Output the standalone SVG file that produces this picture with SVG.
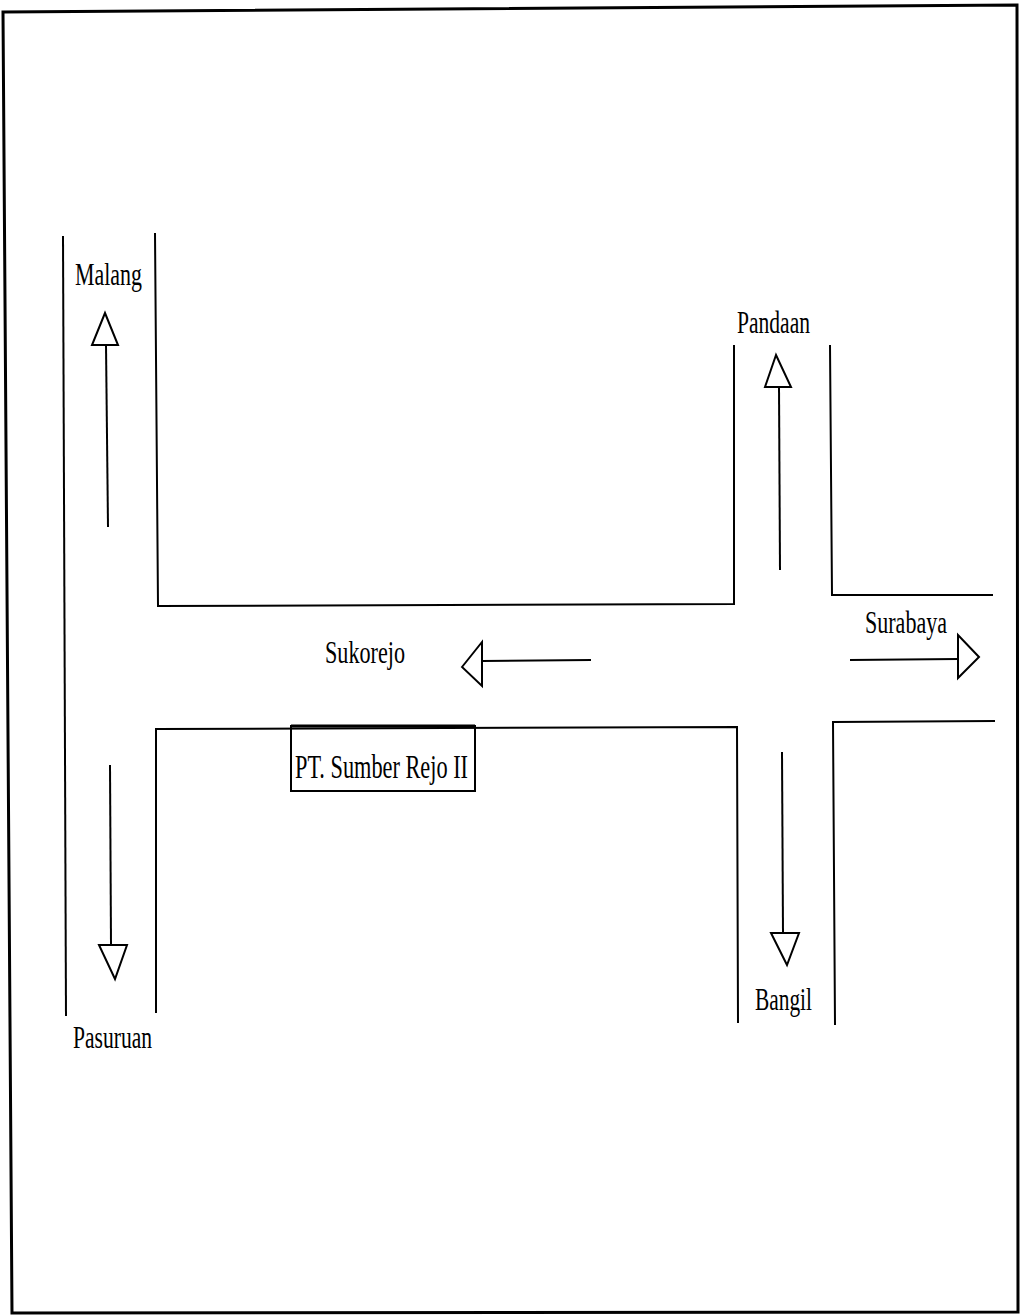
<svg xmlns="http://www.w3.org/2000/svg" width="1024" height="1315" viewBox="0 0 1024 1315">
<style>
.ln{stroke:#000;stroke-width:2;fill:none}
.ar{stroke:#000;stroke-width:2;fill:#fff;stroke-linejoin:miter}
.t{font-family:"Liberation Serif","Times New Roman",serif;font-size:31px;fill:#000}
</style>
<rect width="1024" height="1315" fill="#fff"/>
<polygon class="ln" style="stroke-width:3" points="3,12 1017,5 1018,1312 12,1313"/>
<g id="roads" class="ln">
<polyline points="63,236 66,1016"/>
<polyline points="155,233 158,606 734,604 734,345"/>
<polyline points="830,345 832,595 993,595"/>
<polyline points="156,1013 156,729 737,727 738,1023"/>
<polyline points="835,1025 833,722 995,721"/>
</g>
<g id="connectors">
<g id="arrow-malang"><line class="ln" x1="108" y1="527" x2="106" y2="345"/><polygon class="ar" points="105,313 92,345 118,345"/></g>
<g id="arrow-pandaan"><line class="ln" x1="780" y1="570" x2="779" y2="387"/><polygon class="ar" points="776,355 765,387 791,387"/></g>
<g id="arrow-sukorejo"><line class="ln" x1="591" y1="660" x2="482" y2="661"/><polygon class="ar" points="462,667 482,642 482,686"/></g>
<g id="arrow-surabaya"><line class="ln" x1="850" y1="660" x2="958" y2="659"/><polygon class="ar" points="979,657 958,635 958,678"/></g>
<g id="arrow-pasuruan"><line class="ln" x1="110" y1="765" x2="111" y2="945"/><polygon class="ar" points="115,979 99,945 127,945"/></g>
<g id="arrow-bangil"><line class="ln" x1="782" y1="752" x2="783" y2="933"/><polygon class="ar" points="787,965 771,933 799,933"/></g>
</g>
<g id="label-malang"><text class="t" x="75" y="285" textLength="67" lengthAdjust="spacingAndGlyphs">Malang</text></g>
<g id="label-pandaan"><text class="t" x="737" y="333" textLength="73" lengthAdjust="spacingAndGlyphs">Pandaan</text></g>
<g id="label-sukorejo"><text class="t" x="325" y="663" textLength="80" lengthAdjust="spacingAndGlyphs">Sukorejo</text></g>
<g id="label-surabaya"><text class="t" x="865" y="633" textLength="82" lengthAdjust="spacingAndGlyphs">Surabaya</text></g>
<g id="label-pasuruan"><text class="t" x="73" y="1048" textLength="79" lengthAdjust="spacingAndGlyphs">Pasuruan</text></g>
<g id="label-bangil"><text class="t" x="755" y="1010" textLength="57" lengthAdjust="spacingAndGlyphs">Bangil</text></g>
<g id="pt-sumber-rejo">
<rect class="ln" x="291" y="726" width="184" height="65"/>
<line class="ln" style="stroke-width:3" x1="291" y1="726" x2="475" y2="726"/>
<text class="t" style="font-size:34px" x="295" y="778" textLength="173" lengthAdjust="spacingAndGlyphs">PT. Sumber Rejo II</text>
</g>
</svg>
